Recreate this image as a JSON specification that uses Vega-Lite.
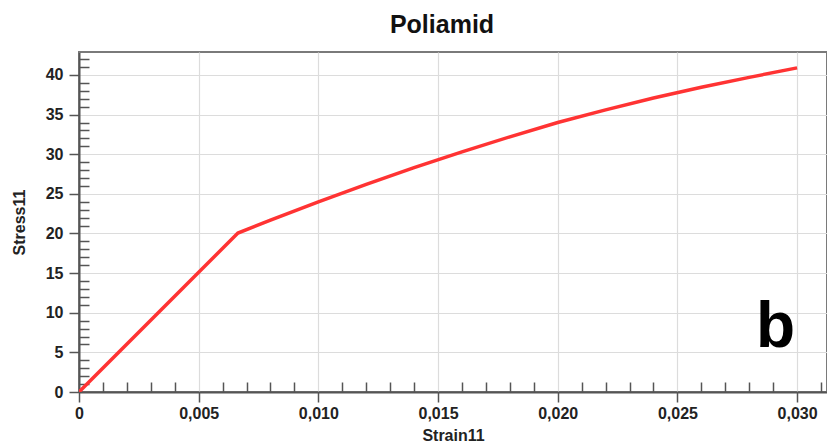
{
  "$schema": "https://vega.github.io/schema/vega-lite/v6.json",
  "width": 748,
  "height": 340,
  "autosize": {"type": "none"},
  "padding": {"left": 79, "top": 52, "right": 0, "bottom": 54},
  "background": "white",
  "config": {
    "view": {"stroke": "#7a7a7a", "strokeWidth": 2},
    "font": "Liberation Sans"
  },
  "title": {
    "text": "Poliamid",
    "fontSize": 25,
    "fontWeight": "bold",
    "font": "Liberation Sans",
    "color": "#111",
    "anchor": "middle",
    "frame": "group",
    "dx": -11,
    "baseline": "alphabetic",
    "offset": -6
  },
  "datasets": {
    "curve": [
      {"strain": 0, "stress": 0},
      {"strain": 0.00664, "stress": 20.06},
      {"strain": 0.008, "stress": 21.7},
      {"strain": 0.010, "stress": 24.0},
      {"strain": 0.012, "stress": 26.2},
      {"strain": 0.014, "stress": 28.3},
      {"strain": 0.016, "stress": 30.3},
      {"strain": 0.018, "stress": 32.2},
      {"strain": 0.020, "stress": 34.0},
      {"strain": 0.022, "stress": 35.6},
      {"strain": 0.024, "stress": 37.1},
      {"strain": 0.026, "stress": 38.45},
      {"strain": 0.028, "stress": 39.7},
      {"strain": 0.030, "stress": 40.9}
    ],
    "label": [
      {"strain": 0.0291, "stress": 5.7, "text": "b"}
    ]
  },
  "resolve": {"axis": {"x": "independent", "y": "independent"}},
  "layer": [
    {
      "data": {"name": "curve"},
      "mark": {"type": "line", "color": "#ff3333", "strokeWidth": 3.5, "clip": true},
      "encoding": {
        "x": {
          "field": "strain",
          "type": "quantitative",
          "scale": {"domain": [0, 0.03125], "nice": false, "zero": false},
          "axis": {
            "orient": "bottom",
            "title": "Strain11",
            "titleFont": "Liberation Sans",
            "titleFontSize": 16,
            "titleFontWeight": "bold",
            "titleColor": "#222",
            "titlePadding": 6,
            "values": [0, 0.005, 0.01, 0.015, 0.02, 0.025, 0.03],
            "labelExpr": "datum.value == 0 ? '0' : replace(format(datum.value, '.3f'), '.', ',')",
            "labelFont": "Liberation Sans",
            "labelFontSize": 16,
            "labelFontWeight": "bold",
            "labelColor": "#222",
            "labelPadding": 3,
            "labelFlush": false,
            "tickSize": 10,
            "tickColor": "#555",
            "tickWidth": 1.5,
            "domainColor": "#555",
            "domainWidth": 2,
            "grid": true,
            "gridColor": "#dcdcdc",
            "gridWidth": 1.2
          }
        },
        "y": {
          "field": "stress",
          "type": "quantitative",
          "scale": {"domain": [0, 42.9], "nice": false, "zero": false},
          "axis": {
            "orient": "left",
            "title": "Stress11",
            "titleFont": "Liberation Sans",
            "titleFontSize": 16,
            "titleFontWeight": "bold",
            "titleColor": "#222",
            "titlePadding": 18,
            "values": [0, 5, 10, 15, 20, 25, 30, 35, 40],
            "format": "d",
            "labelFont": "Liberation Sans",
            "labelFontSize": 16,
            "labelFontWeight": "bold",
            "labelColor": "#222",
            "labelPadding": 6,
            "labelFlush": false,
            "tickSize": 10,
            "tickColor": "#555",
            "tickWidth": 1.5,
            "domainColor": "#555",
            "domainWidth": 2,
            "grid": true,
            "gridColor": "#dcdcdc",
            "gridWidth": 1.2
          }
        }
      }
    },
    {
      "data": {"name": "label"},
      "mark": {"type": "text", "font": "Liberation Sans", "fontSize": 64, "fontWeight": "bold", "color": "#000", "align": "center", "baseline": "alphabetic"},
      "encoding": {
        "text": {"field": "text"},
        "x": {
          "field": "strain",
          "type": "quantitative",
          "scale": {"domain": [0, 0.03125], "nice": false, "zero": false},
          "axis": {
            "orient": "bottom",
            "title": null,
            "values": [0.001, 0.002, 0.003, 0.004, 0.006, 0.007, 0.008, 0.009, 0.011, 0.012, 0.013, 0.014, 0.016, 0.017, 0.018, 0.019, 0.021, 0.022, 0.023, 0.024, 0.026, 0.027, 0.028, 0.029, 0.031],
            "labels": false,
            "domain": false,
            "grid": false,
            "tickSize": -10,
            "tickColor": "#555",
            "tickWidth": 1.5
          }
        },
        "y": {
          "field": "stress",
          "type": "quantitative",
          "scale": {"domain": [0, 42.9], "nice": false, "zero": false},
          "axis": {
            "orient": "left",
            "title": null,
            "values": [1, 2, 3, 4, 6, 7, 8, 9, 11, 12, 13, 14, 16, 17, 18, 19, 21, 22, 23, 24, 26, 27, 28, 29, 31, 32, 33, 34, 36, 37, 38, 39, 41, 42],
            "labels": false,
            "domain": false,
            "grid": false,
            "tickSize": -10,
            "tickColor": "#555",
            "tickWidth": 1.5
          }
        }
      }
    }
  ]
}
